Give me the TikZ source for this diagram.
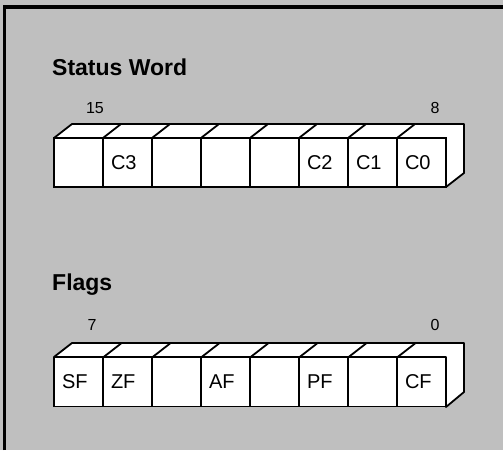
\documentclass[tikz,border=0pt]{standalone}
\usepackage{fontspec}
\setmainfont{Liberation Sans}
\usetikzlibrary{positioning}

\begin{document}
\begin{tikzpicture}[x=1pt,y=1pt,
  cell/.style={draw=black,line width=1.8pt,fill=white,outer sep=0pt,minimum width=49pt,minimum height=49pt,inner xsep=8pt,inner ysep=0pt,text width=33pt,align=left,font=\fontsize{20}{20}\selectfont},
  face/.style={draw=black,line width=1.8pt,fill=white,line join=round},
  title/.style={anchor=west,inner sep=0pt,font=\fontsize{23}{23}\selectfont\bfseries},
  bitnum/.style={inner sep=0pt,font=\fontsize{16}{16}\selectfont}
]
\fill[black!25] (0,0) rectangle (503,450);
\useasboundingbox (0,0) rectangle (503,450);
\draw[line width=3.5pt] (4.5,0) -- (4.5,443) -- (503,443);

\node[title] (swtitle) at (52,383) {Status Word};
\node[bitnum] (sw15) at (95,342) {15};
\node[bitnum] (sw8) at (435,342) {8};

\node[title] (flagtitle) at (52,165) {Flags};
\node[bitnum] (fl7) at (92,125) {7};
\node[bitnum] (fl0) at (435,125) {0};

% status word, bits 15..8
\draw[face] (54,312) -- ++(18,14) -- (464,326) -- ++(0,-49) -- (446,263) -- (446,312) -- cycle;
\node[cell] (s15) at (78.5,287.5) {};
\node[cell] (s14) at (127.5,287.5) {C3};
\node[cell] (s13) at (176.5,287.5) {};
\node[cell] (s12) at (225.5,287.5) {};
\node[cell] (s11) at (274.5,287.5) {};
\node[cell] (s10) at (323.5,287.5) {C2};
\node[cell] (s9) at (372.5,287.5) {C1};
\node[cell] (s8) at (421.5,287.5) {C0};
\foreach \c in {s14,s13,s12,s11,s10,s9,s8}
  \draw[face] (\c.north west) -- ++(18,14);

% flags, bits 7..0
\draw[face] (54,93) -- ++(18,14) -- (464,107) -- ++(0,-49) -- (446,43) -- (446,93) -- cycle;
\node[cell] (f7) at (78.5,68) {SF};
\node[cell] (f6) at (127.5,68) {ZF};
\node[cell] (f5) at (176.5,68) {};
\node[cell] (f4) at (225.5,68) {AF};
\node[cell] (f3) at (274.5,68) {};
\node[cell] (f2) at (323.5,68) {PF};
\node[cell] (f1) at (372.5,68) {};
\node[cell] (f0) at (421.5,68) {CF};
\foreach \c in {f6,f5,f4,f3,f2,f1,f0}
  \draw[face] (\c.north west) -- ++(18,14);
\end{tikzpicture}
\end{document}
